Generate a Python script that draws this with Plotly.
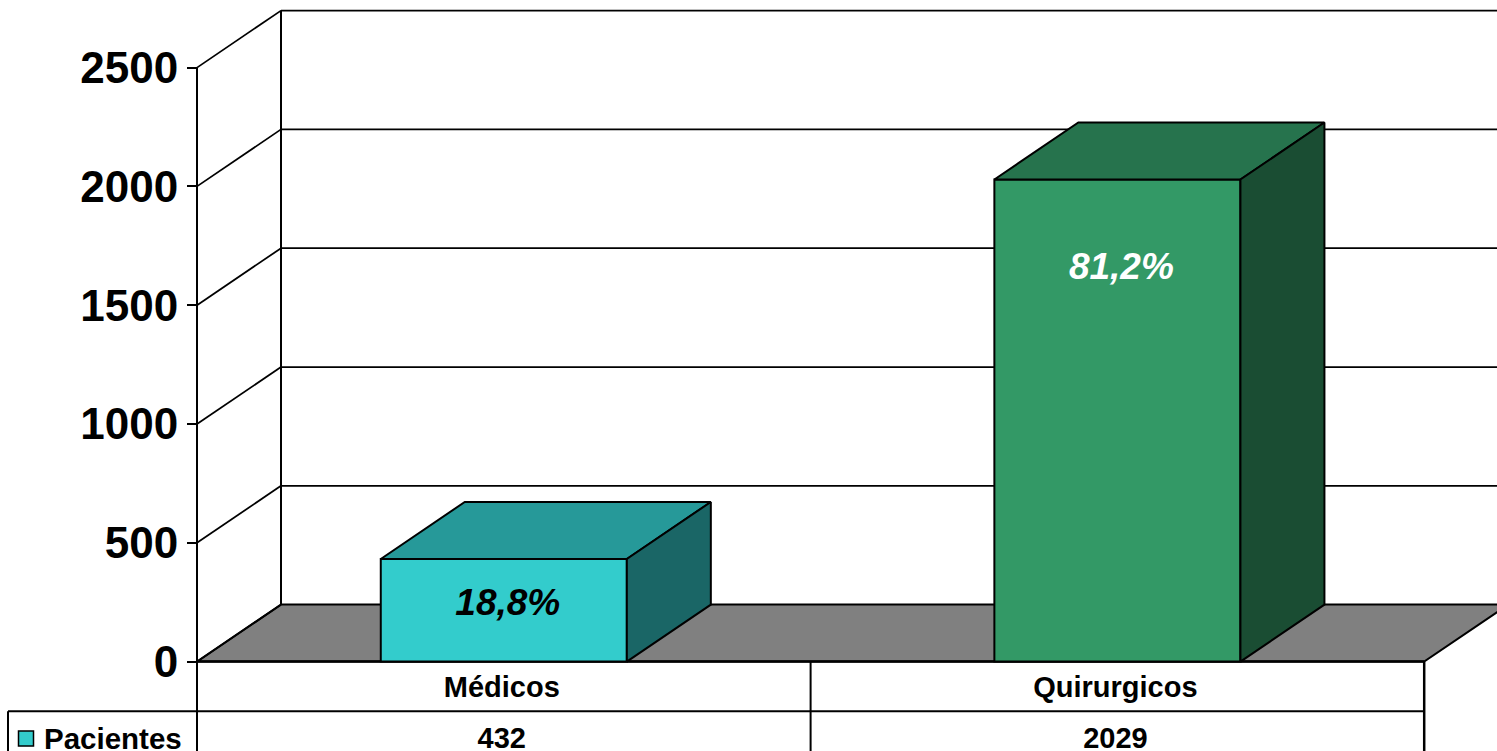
import plotly.graph_objects as go

# --- data ---
categories = ["Médicos", "Quirurgicos"]
series_name = "Pacientes"
values = [432, 2029]
percent_labels = ["18,8%", "81,2%"]
percent_label_levels = [235, 1649]
percent_label_colors = ["#000000", "#FFFFFF"]
y_ticks = [0, 500, 1000, 1500, 2000, 2500]
front_colors = ["#33CCCC", "#339966"]
top_colors = ["#269999", "#26734D"]
side_colors = ["#1A6666", "#1A4D33"]

# --- geometry of the pseudo-3D frame ---
W, H = 1497, 751
AXIS_PX, ZERO_PX = 197, 661.6
UNITS_PER_PX = 2500 / (661 - 67)
CAT_PX = 613.6
DX = 84 / CAT_PX           # depth in x (category units)
DY = 57 * UNITS_PER_PX     # depth in y (value units)
BAR_W = 0.401
ROW1 = -49.6 * UNITS_PER_PX
BOTTOM = -(H - ZERO_PX) * UNITS_PER_PX
TOP = ZERO_PX * UNITS_PER_PX
X_MIN = -AXIS_PX / CAT_PX
X_MAX = (W - AXIS_PX) / CAT_PX
N = len(categories)
FONT = "Liberation Sans, Arial, sans-serif"
LINE = 2
LABEL_SHIFT = 4 / CAT_PX
TABLE_SHIFT = -2 / CAT_PX


def seg(x0, y0, x1, y1, width=LINE):
    return dict(type="line", xref="x", yref="y", x0=x0, y0=y0, x1=x1, y1=y1,
                layer="below", line=dict(color="#000000", width=width))


shapes = [
    # floor
    dict(type="path", xref="x", yref="y", layer="below",
         path=f"M0,0 L{DX},{DY} L{N + DX},{DY} L{N},0 Z",
         fillcolor="#808080", line=dict(color="#000000", width=LINE)),
    seg(DX, 0 + DY, DX, y_ticks[-1] + DY),              # back wall left edge
    seg(0, y_ticks[-1], 0, BOTTOM),                     # value axis
    seg(0, 0, N, 0, 2.5),                               # baseline
    seg(0, ROW1, N, ROW1),                              # table row
    seg(N, 0, N, BOTTOM, 2.5),                          # table right
    seg(1, 0, 1, BOTTOM),                               # table separator
    seg(X_MIN + 8 / CAT_PX, ROW1, 0, ROW1),             # legend box top
    seg(X_MIN + 8 / CAT_PX, ROW1, X_MIN + 8 / CAT_PX, BOTTOM),
]
for t in y_ticks:
    shapes.append(seg(0, t, DX, t + DY, 1.75))
    if t:
        shapes.append(seg(DX, t + DY, N + 2 * DX, t + DY, 1.75))

fig = go.Figure()

# bar fronts
fig.add_trace(go.Bar(
    x=[i + 0.5 for i in range(N)], y=values, width=BAR_W,
    marker=dict(color=front_colors, line=dict(color="#000000", width=LINE)),
    hoverinfo="skip", showlegend=False,
))

# bar tops and sides
for i, v in enumerate(values):
    x0, x1 = i + 0.5 - BAR_W / 2, i + 0.5 + BAR_W / 2
    fig.add_trace(go.Scatter(
        x=[x0, x0 + DX, x1 + DX, x1, x0], y=[v, v + DY, v + DY, v, v],
        mode="lines", fill="toself", fillcolor=top_colors[i],
        line=dict(color="#000000", width=LINE), hoverinfo="skip", showlegend=False,
    ))
    fig.add_trace(go.Scatter(
        x=[x1, x1 + DX, x1 + DX, x1, x1], y=[0, DY, v + DY, v, 0],
        mode="lines", fill="toself", fillcolor=side_colors[i],
        line=dict(color="#000000", width=LINE), hoverinfo="skip", showlegend=False,
    ))

# percentage labels
for i, lab in enumerate(percent_labels):
    fig.add_trace(go.Scatter(
        x=[i + 0.5 + LABEL_SHIFT], y=[percent_label_levels[i]], mode="text", text=[lab],
        textposition="middle center",
        textfont=dict(family=FONT, size=37, color=percent_label_colors[i],
                      weight="bold", style="italic"),
        hoverinfo="skip", showlegend=False,
    ))

# data-table text
fig.add_trace(go.Scatter(
    x=[i + 0.5 + TABLE_SHIFT for i in range(N)], y=[-28 * UNITS_PER_PX] * N,
    mode="text", text=categories,
    textfont=dict(family=FONT, size=29, color="#000000", weight="bold"),
    hoverinfo="skip", showlegend=False,
))
fig.add_trace(go.Scatter(
    x=[i + 0.5 + TABLE_SHIFT for i in range(N)], y=[-79 * UNITS_PER_PX] * N,
    mode="text", text=[str(v) for v in values],
    textfont=dict(family=FONT, size=29, color="#000000", weight="bold"),
    hoverinfo="skip", showlegend=False,
))
fig.add_trace(go.Scatter(
    x=[X_MIN + 26 / CAT_PX], y=[-77 * UNITS_PER_PX], mode="markers",
    marker=dict(symbol="square", size=15, color=front_colors[0],
                line=dict(color="#000000", width=1.5)),
    hoverinfo="skip", showlegend=False,
))
fig.add_trace(go.Scatter(
    x=[X_MIN + 44 / CAT_PX], y=[-80 * UNITS_PER_PX], mode="text", text=[series_name],
    textposition="middle right",
    textfont=dict(family=FONT, size=29.5, color="#000000", weight="bold"),
    hoverinfo="skip", showlegend=False,
))

fig.update_layout(
    width=W, height=H, margin=dict(l=0, r=0, t=0, b=0),
    paper_bgcolor="#FFFFFF", plot_bgcolor="#FFFFFF",
    shapes=shapes, showlegend=False,
    xaxis=dict(range=[X_MIN, X_MAX], showgrid=False, zeroline=False,
               showticklabels=False, ticks="", showline=False, fixedrange=True),
    yaxis=dict(range=[BOTTOM, TOP], anchor="free", position=AXIS_PX / W, side="left",
               tickmode="array", tickvals=y_ticks, ticktext=[str(t) for t in y_ticks],
               ticks="outside", ticklen=10, tickwidth=2, tickcolor="#000000",
               tickfont=dict(family=FONT, size=44, color="#000000", weight="bold"),
               showgrid=False, zeroline=False, showline=False, fixedrange=True),
)

fig.write_html("out.html", config=dict(displayModeBar=False),
               post_script="document.body.style.margin='0';document.body.style.overflow='hidden';")
